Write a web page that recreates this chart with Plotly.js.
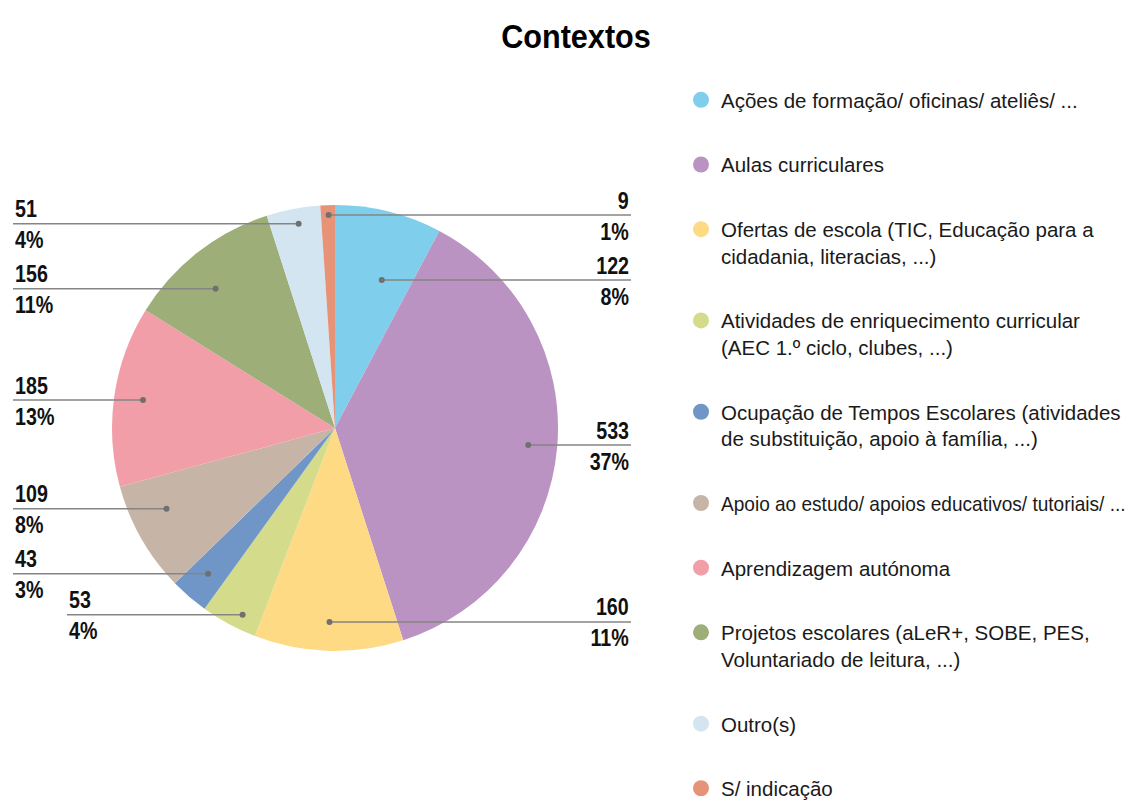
<!DOCTYPE html>
<html>
<head>
<meta charset="utf-8">
<script src="https://cdn.plot.ly/plotly-3.0.1.min.js"></script>
<style>
html,body{margin:0;padding:0;background:#ffffff;}
#chart{width:1130px;height:805px;}
</style>
</head>
<body>
<div id="chart"></div>
<script>
// ---------------- DATA ----------------
const categories = [
  "Ações de formação/ oficinas/ ateliês/ ...",
  "Aulas curriculares",
  "Ofertas de escola (TIC, Educação para a<br>cidadania, literacias, ...)",
  "Atividades de enriquecimento curricular<br>(AEC 1.º ciclo, clubes, ...)",
  "Ocupação de Tempos Escolares (atividades<br>de substituição, apoio à família, ...)",
  "Apoio ao estudo/ apoios educativos/ tutoriais/ ...",
  "Aprendizagem autónoma",
  "Projetos escolares (aLeR+, SOBE, PES,<br>Voluntariado de leitura, ...)",
  "Outro(s)",
  "S/ indicação"
];
const counts = [122, 533, 160, 53, 43, 109, 185, 156, 51, 9];
// slice shares (%) as drawn in the picture
const sliceShares = [7.75, 37.3, 10.8, 4.1, 2.8, 8.0, 13.1, 11.2, 3.9, 1.05];
const colors = ["#7ECEEC", "#BB93C3", "#FEDA84", "#D4DB8A", "#7096C8",
                "#C6B5A6", "#F29EA9", "#9DAE78", "#D3E5F1", "#E69378"];
const chartTitle = "Contextos";

// ---------------- LAYOUT CONSTANTS ----------------
const W = 1130, H = 805;
const cx = 335, cy = 428, R = 223;
const BOLD = "Liberation Sans, Arial, sans-serif";
const REG = "Liberation Sans, Arial, sans-serif";

// ---------------- LABEL GEOMETRY ----------------
const total = sliceShares.reduce((a, b) => a + b, 0);
const rd = 0.87 * R;
const yMin = cy - 0.955 * R, yMax = cy + 0.955 * R;
const GAP = 65, GAP_IND = 41, IND = 54;
const xRight = 631, xLeft = 13;
let cum = 0;
const items = sliceShares.map((s, i) => {
  const mid = (cum + s / 2) / total * 360; cum += s;
  const a = mid * Math.PI / 180;
  return {i, mid, dotX: cx + rd * Math.sin(a), ideal: cy - rd * Math.cos(a), right: Math.sin(a) > -0.1};
});
function resolve(list) {
  list.sort((a, b) => a.ideal - b.ideal);
  const n = list.length;
  list.forEach(it => { it.indent = false; it.gap = GAP; it.y = it.ideal; });
  if (n > 1 && list[n - 1].ideal - list[n - 2].ideal < GAP) {
    list[n - 1].indent = true; list[n - 1].gap = GAP_IND;
  }
  for (let iter = 0; iter < 300; iter++) {
    for (let k = 1; k < n; k++) {
      const ov = list[k - 1].y + list[k].gap - list[k].y;
      if (ov > 0) { list[k - 1].y -= ov / 2; list[k].y += ov / 2; }
    }
    if (list[0].y < yMin) list[0].y = yMin;
    if (list[n - 1].y > yMax) list[n - 1].y = yMax;
  }
}
resolve(items.filter(d => d.right));
resolve(items.filter(d => !d.right));

const shapes = [], annotations = [];
items.forEach(d => {
  const pct = Math.round(sliceShares[d.i] / total * 100);
  let x0, x1, tx, anchor;
  if (d.right) { x0 = d.dotX; x1 = xRight; tx = xRight; anchor = 'right'; }
  else { const xl = xLeft + (d.indent ? IND : 0); x0 = xl; x1 = d.dotX; tx = xl; anchor = 'left'; }
  shapes.push({type: 'line', xref: 'x', yref: 'y', x0: x0, x1: x1, y0: d.y, y1: d.y,
               line: {color: '#858585', width: 1.5}});
  shapes.push({type: 'circle', xref: 'x', yref: 'y', x0: d.dotX - 3, x1: d.dotX + 3,
               y0: d.y - 3, y1: d.y + 3, fillcolor: '#707070', line: {width: 0}});
  annotations.push({xref: 'x', yref: 'y', x: tx, y: d.y + 0.5, xanchor: anchor, yanchor: 'middle',
                    align: anchor, showarrow: false,
                    text: counts[d.i] + '<br>' + pct + '%',
                    font: {family: BOLD, size: 24, color: '#111111', weight: 'bold'}});
});

// ---------------- TRACES ----------------
const pieTrace = {
  type: 'pie',
  values: sliceShares,
  labels: categories,
  marker: {colors: colors, line: {width: 0}},
  sort: false,
  direction: 'clockwise',
  rotation: 0,
  textinfo: 'none',
  hoverinfo: 'label+value',
  showlegend: false,
  domain: {x: [(cx - R) / W, (cx + R) / W], y: [1 - (cy + R) / H, 1 - (cy - R) / H]}
};
const legendTraces = categories.map((c, i) => ({
  type: 'scatter', mode: 'markers', x: [null], y: [null],
  name: c, legendgroup: 'g' + i,
  marker: {color: colors[i], size: 19, symbol: 'circle'},
  hoverinfo: 'skip', showlegend: true
}));

const layout = {
  width: W, height: H,
  margin: {l: 0, r: 0, t: 0, b: 0, autoexpand: false},
  paper_bgcolor: '#ffffff', plot_bgcolor: 'rgba(0,0,0,0)',
  title: {text: chartTitle, x: 576 / W, xanchor: 'center', y: 1 - 36 / H, yanchor: 'middle',
          xref: 'container', yref: 'container',
          font: {family: BOLD, size: 34, color: '#000000', weight: 'bold'}},
  xaxis: {range: [0, W], visible: false, fixedrange: true, domain: [0, 1]},
  yaxis: {range: [H, 0], visible: false, fixedrange: true, domain: [0, 1]},
  showlegend: true,
  legend: {x: 681 / W, xanchor: 'left', y: 1 - 80 / H, yanchor: 'top',
           traceorder: 'grouped', tracegroupgap: 35, valign: 'top',
           font: {family: REG, size: 20.5, color: '#1a1a1a'},
           bgcolor: 'rgba(0,0,0,0)', borderwidth: 0, itemclick: false, itemdoubleclick: false},
  shapes: shapes,
  annotations: annotations
};

// horizontal condensing of text, to imitate the condensed typeface of the original
function squeeze(el, s) {
  if (!el) return;
  const x = parseFloat(el.getAttribute('x')) || 0;
  el.setAttribute('transform', 'translate(' + x + ',0) scale(' + s + ',1) translate(' + (-x) + ',0)');
}

Plotly.newPlot('chart', [pieTrace].concat(legendTraces), layout, {displayModeBar: false, staticPlot: true})
  .then(gd => {
    gd.querySelectorAll('text.annotation-text').forEach(t => squeeze(t, 0.82));
    squeeze(gd.querySelector('text.gtitle'), 0.9);
    gd.querySelectorAll('text.legendtext').forEach(t => {
      if (t.textContent.indexOf('Apoio ao estudo') === 0) squeeze(t, 0.93);
    });
  });
</script>
</body>
</html>
